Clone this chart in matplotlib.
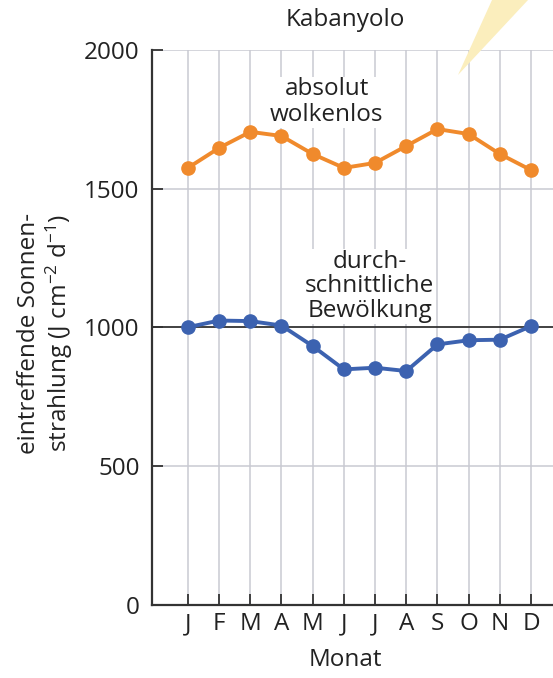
import numpy as np
import matplotlib
matplotlib.use('Agg')
import matplotlib.pyplot as plt
from matplotlib.patches import Polygon
from matplotlib.transforms import blended_transform_factory

plt.rcParams.update({
    'font.family': ['Open Sans', 'DejaVu Sans'],
    'font.size': 17.5,
    'mathtext.fontset': 'custom',
    'mathtext.rm': 'Open Sans',
    'mathtext.it': 'Open Sans',
})

# ── Data ─────────────────────────────────────────────────────────
months   = ['J', 'F', 'M', 'A', 'M', 'J', 'J', 'A', 'S', 'O', 'N', 'D']
wolkenlos = [1575, 1647, 1705, 1690, 1625, 1575, 1593, 1654, 1715, 1697, 1625, 1567]
bewoelkt  = [1001, 1025, 1023, 1007, 933, 849, 855, 843, 939, 954, 956, 1005]
yticks    = [0, 500, 1000, 1500, 2000]

ORANGE = '#f08a2c'
BLUE   = '#3c62b0'
GRID   = '#c9cad2'
DARK   = '#333333'
TXT    = '#222222'

fig = plt.figure(figsize=(5.53, 6.78), dpi=100)
ax = fig.add_axes([0.2749, 0.1077, 0.7306, 0.8186])

x = np.arange(len(months))
ax.set_xlim(-1.15, 11.8)
ax.set_ylim(0, 2000)

# grid
for xi in x:
    ax.axvline(xi, color=GRID, lw=1.1, zorder=1)
for yv in [500, 1500, 2000]:
    ax.axhline(yv, color=GRID, lw=1.1, zorder=1)
ax.axhline(1000, color=DARK, lw=1.3, zorder=1)

ax.plot(x, wolkenlos, color=ORANGE, lw=2.8, marker='o', ms=9.5, zorder=4)
ax.plot(x, bewoelkt, color=BLUE, lw=2.8, marker='o', ms=9.5, zorder=4)

box = dict(facecolor='white', edgecolor='none', pad=0.5)
ax.text(4.45, 1812, 'absolut\nwolkenlos', ha='center', va='center',
        linespacing=1.1, fontsize=17.5, color=TXT, bbox=box, zorder=3)
ax.text(5.83, 1148, 'durch-\nschnittliche\nBewölkung', ha='center', va='center',
        linespacing=1.05, fontsize=17.5, color=TXT, bbox=box, zorder=3)

for side in ['top', 'right']:
    ax.spines[side].set_visible(False)
for side in ['left', 'bottom']:
    ax.spines[side].set_color(DARK)
    ax.spines[side].set_linewidth(1.6)

ax.set_xticks(x)
ax.set_xticklabels(months)
ax.set_yticks(yticks)
ax.tick_params(axis='both', direction='in', length=8, width=1.3, color=DARK,
               labelsize=17.5, labelcolor=TXT)
ax.tick_params(axis='x', pad=5)
ax.tick_params(axis='y', pad=9)

trans = blended_transform_factory(ax.transData, fig.transFigure)
ax.text(5.05, 1 - 660 / 678, 'Monat', transform=trans, ha='center', va='center',
        fontsize=17.5, color=TXT)
fig.text(46 / 553, 1 - 333 / 678,
         'eintreffende Sonnen-\nstrahlung (J cm$^{-2}$ d$^{-1}$)',
         rotation=90, ha='center', va='center', fontsize=17.5, color=TXT,
         linespacing=1.15)

fig.text(345 / 553, 1 - 20 / 678, 'Kabanyolo', ha='center', va='center',
         fontsize=17.5, color=TXT)

# decorative sun ray at top right
ray = Polygon([(458 / 553, 1 - 75 / 678), (492 / 553, 1.0), (528 / 553, 1.0)],
              closed=True, transform=fig.transFigure, facecolor='#fbeebd',
              edgecolor='none', zorder=10)
fig.patches.append(ray)

fig.savefig('out.png', dpi=100)
